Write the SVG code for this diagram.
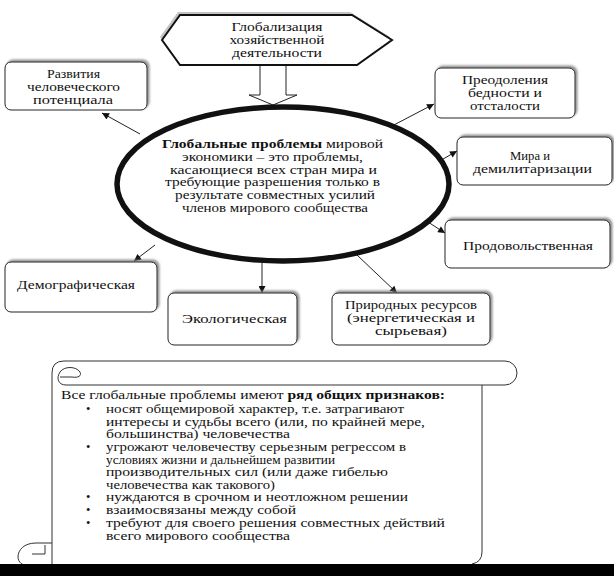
<svg xmlns="http://www.w3.org/2000/svg" width="614" height="576" viewBox="0 0 614 576">
<style>
text{font-family:"Liberation Serif","DejaVu Serif",serif;font-size:12.5px;fill:#111}
.e{font-size:11.5px}
.b{font-weight:bold}
.box{fill:#fff;stroke:#222;stroke-width:1}
.ln{stroke:#222;stroke-width:1;fill:none;marker-end:url(#ah)}
.sc{fill:none;stroke:#333;stroke-width:1}
</style>
<defs>
<filter id="sh" x="-10%" y="-20%" width="120%" height="140%">
<feDropShadow dx="2" dy="-2" stdDeviation="1.2" flood-color="#777" flood-opacity="0.8"/>
</filter>
<marker id="ah" viewBox="0 0 10 10" refX="10" refY="5" markerWidth="9" markerHeight="7" markerUnits="userSpaceOnUse" orient="auto">
<path d="M0,0 L10,5 L0,10 z" fill="#111"/>
</marker>
</defs>
<rect width="614" height="576" fill="#fff"/>

<g id="connectors">
<line class="ln" x1="140" y1="134" x2="102" y2="113"/>
<line class="ln" x1="390" y1="127" x2="434" y2="104"/>
<line class="ln" x1="438" y1="162" x2="457" y2="151"/>
<line class="ln" x1="428" y1="222" x2="445" y2="233"/>
<line class="ln" x1="155" y1="245" x2="134" y2="261"/>
<line class="ln" x1="262" y1="262" x2="262" y2="293"/>
<line class="ln" x1="357" y1="255" x2="397" y2="293"/>
<polygon points="260,65 286,65 286,95 297,95 273,105 249,95 260,95" fill="#fff" stroke="#222" stroke-width="1"/>
</g>

<g id="globalization">
<polygon points="162,40 180,15 352,15 392,40 357,65 180,65" fill="#999" transform="translate(-2,-3)" opacity="0.6"/>
<polygon points="162,40 180,15 352,15 392,40 357,65 180,65" fill="#fff" stroke="#111" stroke-width="2"/>
<text x="231.5" y="31" textLength="91" lengthAdjust="spacingAndGlyphs">Глобализация</text>
<text x="229.5" y="44" textLength="95" lengthAdjust="spacingAndGlyphs">хозяйственной</text>
<text x="232" y="57" textLength="90" lengthAdjust="spacingAndGlyphs">деятельности</text>
</g>

<g id="center">
<ellipse cx="283" cy="184" rx="166" ry="77" fill="#fff" stroke="#111" stroke-width="5.5"/>
<text class="e" x="162" y="148" textLength="221" lengthAdjust="spacingAndGlyphs"><tspan class="b">Глобальные проблемы</tspan> мировой</text>
<text class="e" x="182" y="160.8" textLength="181" lengthAdjust="spacingAndGlyphs">экономики – это проблемы,</text>
<text class="e" x="170" y="173.6" textLength="207" lengthAdjust="spacingAndGlyphs">касающиеся всех стран мира и</text>
<text class="e" x="165" y="186.4" textLength="215" lengthAdjust="spacingAndGlyphs">требующие разрешения только в</text>
<text class="e" x="175" y="199.2" textLength="200" lengthAdjust="spacingAndGlyphs">результате совместных усилий</text>
<text class="e" x="182" y="212" textLength="186" lengthAdjust="spacingAndGlyphs">членов мирового сообщества</text>
</g>

<g id="human">
<rect class="box" x="5" y="62" width="142" height="48" rx="6" filter="url(#sh)"/>
<text x="47" y="78" textLength="53" lengthAdjust="spacingAndGlyphs">Развития</text>
<text x="27" y="91" textLength="93" lengthAdjust="spacingAndGlyphs">человеческого</text>
<text x="33" y="104" textLength="80" lengthAdjust="spacingAndGlyphs">потенциала</text>
</g>

<g id="poverty">
<rect class="box" x="435" y="68" width="140" height="50" rx="6" filter="url(#sh)"/>
<text x="462" y="84" textLength="86" lengthAdjust="spacingAndGlyphs">Преодоления</text>
<text x="468" y="97" textLength="74" lengthAdjust="spacingAndGlyphs">бедности и</text>
<text x="470" y="110" textLength="70" lengthAdjust="spacingAndGlyphs">отсталости</text>
</g>

<g id="peace">
<rect class="box" x="457" y="137" width="155" height="48" rx="6" filter="url(#sh)"/>
<text x="510" y="160" textLength="40" lengthAdjust="spacingAndGlyphs">Мира и</text>
<text x="473" y="173" textLength="119" lengthAdjust="spacingAndGlyphs">демилитаризации</text>
</g>

<g id="food">
<rect class="box" x="445" y="220" width="165" height="48" rx="6" filter="url(#sh)"/>
<text x="463" y="250" textLength="130" lengthAdjust="spacingAndGlyphs">Продовольственная</text>
</g>

<g id="demography">
<rect class="box" x="5" y="262" width="152" height="50" rx="6" filter="url(#sh)"/>
<text x="17" y="289" textLength="118" lengthAdjust="spacingAndGlyphs">Демографическая</text>
</g>

<g id="ecology">
<rect class="box" x="168" y="293" width="129" height="52" rx="6" filter="url(#sh)"/>
<text x="182" y="323" textLength="105" lengthAdjust="spacingAndGlyphs">Экологическая</text>
</g>

<g id="resources">
<rect class="box" x="332" y="293" width="158" height="52" rx="6" filter="url(#sh)"/>
<text x="345" y="309" textLength="132" lengthAdjust="spacingAndGlyphs">Природных ресурсов</text>
<text x="347" y="322" textLength="128" lengthAdjust="spacingAndGlyphs">(энергетическая и</text>
<text x="375" y="335" textLength="72" lengthAdjust="spacingAndGlyphs">сырьевая)</text>
</g>

<g id="scroll">
<path class="sc" d="M52,566 L52,373 Q52,361 64,361 L505,361 A12,12 0 0 1 505,385 L66,385"/>
<path class="sc" d="M66,385 C58,385 56,378 60,372 C64,366 76,366 80,372 C82,376 78,378 72,377 L60,377"/>
<path class="sc" d="M482,385 L482,552 Q482,562 472,564"/>
<path class="sc" d="M52,543 L36,543 C24,543 18,550 18,557 C18,562 22,566 30,566"/>
<path class="sc" d="M32,554 L45,554 L45,545"/>
<text x="61" y="399" textLength="384" lengthAdjust="spacingAndGlyphs">Все глобальные проблемы имеют <tspan class="b">ряд общих признаков:</tspan></text>
<text x="86" y="413">•</text>
<text x="106" y="413" textLength="298" lengthAdjust="spacingAndGlyphs">носят общемировой характер, т.е. затрагивают</text>
<text x="106" y="425.5" textLength="319" lengthAdjust="spacingAndGlyphs">интересы и судьбы всего (или, по крайней мере,</text>
<text x="106" y="438" textLength="184" lengthAdjust="spacingAndGlyphs">большинства) человечества</text>
<text x="86" y="451">•</text>
<text x="106" y="451" textLength="300" lengthAdjust="spacingAndGlyphs">угрожают человечеству серьезным регрессом в</text>
<text x="106" y="463.5" textLength="229" lengthAdjust="spacingAndGlyphs">условиях жизни и дальнейшем развитии</text>
<text x="106" y="476" textLength="282" lengthAdjust="spacingAndGlyphs">производительных сил (или даже гибелью</text>
<text x="106" y="488.5" textLength="169" lengthAdjust="spacingAndGlyphs">человечества как такового)</text>
<text x="86" y="501">•</text>
<text x="106" y="501" textLength="302" lengthAdjust="spacingAndGlyphs">нуждаются в срочном и неотложном решении</text>
<text x="86" y="514">•</text>
<text x="106" y="514" textLength="190" lengthAdjust="spacingAndGlyphs">взаимосвязаны между собой</text>
<text x="86" y="527">•</text>
<text x="106" y="527" textLength="339" lengthAdjust="spacingAndGlyphs">требуют для своего решения совместных действий</text>
<text x="106" y="539.5" textLength="184" lengthAdjust="spacingAndGlyphs">всего мирового сообщества</text>
</g>

<rect x="0" y="564" width="614" height="12" fill="#000"/>
</svg>
